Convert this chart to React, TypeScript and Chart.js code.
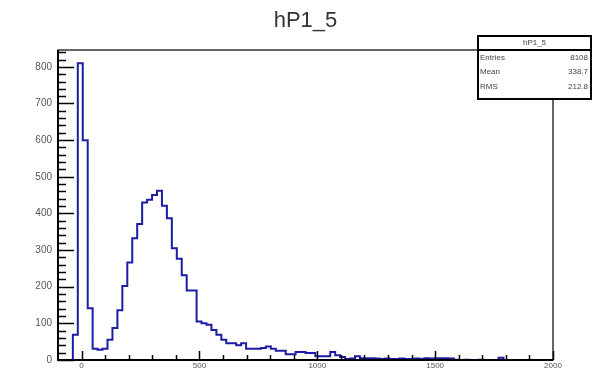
import React, { useEffect, useRef } from 'react';
import { Chart, registerables } from 'chart.js';

Chart.register(...registerables);

const histTitle = 'hP1_5';
const xMin = -100;
const xMax = 2000;
const binWidth = 21;
const yMax = 846;
const binContents = [
  0, 0, 0, 0, 69, 810, 600, 141, 31, 28,
  31, 55, 87, 136, 202, 266, 332, 371, 430, 437,
  450, 462, 421, 387, 305, 276, 231, 190, 190, 105,
  100, 96, 82, 69, 55, 46, 46, 40, 46, 31,
  31, 31, 33, 37, 31, 25, 25, 16, 16, 22,
  22, 19, 19, 10, 10, 10, 22, 13, 8, 3,
  4, 10, 5, 5, 5, 4, 3, 4, 3, 3,
  4, 3, 3, 4, 3, 5, 4, 5, 5, 5,
  4, 1, 0, 1, 0, 0, 1, 0, 0, 0,
  6, 0, 0, 0, 0, 0, 0, 0, 0, 0,
];
const xTickValues = [0, 500, 1000, 1500, 2000];
const yTickValues = [0, 100, 200, 300, 400, 500, 600, 700, 800];
const xMinorStep = 100;
const yMinorStep = 20;
const statsLabels = ['Entries', 'Mean', 'RMS'];
const statsValues = ['8108', '338.7', '212.8'];

const FONT = "'Liberation Sans', Arial, Helvetica, sans-serif";
const LINE_COLOR = '#1c1ca6';

const framePlugin = {
  id: 'rootFrame',
  afterDatasetsDraw(chart: any) {
    const { ctx, chartArea, scales } = chart;
    const { left, right, top, bottom } = chartArea;
    const xs = scales.x;
    const ys = scales.y;
    ctx.save();
    ctx.strokeStyle = '#000';
    ctx.lineWidth = 1.2;
    ctx.strokeRect(left, top, right - left, bottom - top);
    ctx.lineWidth = 2;
    ctx.beginPath();
    ctx.moveTo(left, top);
    ctx.lineTo(left, bottom);
    ctx.lineTo(right, bottom);
    ctx.stroke();
    ctx.lineWidth = 1.5;
    ctx.beginPath();
    for (let v = 0; v <= xMax; v += xMinorStep) {
      const px = Math.round(xs.getPixelForValue(v)) + 0.5;
      const len = v % 500 === 0 ? 9 : 5;
      ctx.moveTo(px, bottom);
      ctx.lineTo(px, bottom - len);
    }
    ctx.stroke();
    ctx.beginPath();
    for (let v = 0; v <= yMax; v += yMinorStep) {
      const py = Math.round(ys.getPixelForValue(v)) + 0.5;
      const len = v % 100 === 0 ? 16 : 8;
      ctx.moveTo(left, py);
      ctx.lineTo(left + len, py);
    }
    ctx.stroke();
    ctx.restore();
  },
  afterDraw(chart: any) {
    const { ctx } = chart;
    const bx = 478;
    const by = 36;
    const bw = 113;
    const bh = 63;
    ctx.save();
    ctx.fillStyle = '#fff';
    ctx.fillRect(bx, by, bw, bh);
    ctx.strokeStyle = '#000';
    ctx.lineWidth = 2;
    ctx.strokeRect(bx, by, bw, bh);
    ctx.beginPath();
    ctx.moveTo(bx, 50);
    ctx.lineTo(bx + bw, 50);
    ctx.stroke();
    ctx.fillStyle = '#444';
    ctx.font = `8px ${FONT}`;
    ctx.textBaseline = 'middle';
    ctx.textAlign = 'center';
    ctx.fillText(histTitle, bx + bw / 2, 43);
    const rowY = [58, 72, 86.5];
    statsLabels.forEach((lab, i) => {
      ctx.textAlign = 'left';
      ctx.fillText(lab, bx + 2, rowY[i]);
      ctx.textAlign = 'right';
      ctx.fillText(statsValues[i], bx + bw - 3, rowY[i]);
    });
    ctx.restore();
  },
};

export default function App() {
  const canvasRef = useRef<HTMLCanvasElement | null>(null);

  useEffect(() => {
    if (!canvasRef.current) return;
    const points = binContents.map((c, k) => ({ x: xMin + k * binWidth, y: c }));
    points.push({ x: xMax, y: binContents[binContents.length - 1] });

    const chart = new Chart(canvasRef.current, {
      type: 'line',
      data: {
        datasets: [
          {
            data: points,
            stepped: 'after',
            borderColor: LINE_COLOR,
            borderWidth: 2,
            pointRadius: 0,
            fill: false,
          },
        ],
      },
      options: {
        animation: false,
        responsive: false,
        devicePixelRatio: 1,
        layout: { padding: { left: 0, right: 41, top: 0, bottom: 0 } },
        plugins: {
          legend: { display: false },
          tooltip: { enabled: false },
          title: {
            display: true,
            fullSize: false,
            text: histTitle,
            color: '#333',
            font: { family: FONT, size: 22, weight: 'normal' },
            padding: { top: 8, bottom: 15.6 },
          },
        },
        scales: {
          x: {
            type: 'linear',
            min: xMin,
            max: xMax,
            grid: { display: false, drawTicks: false },
            border: { display: false },
            ticks: {
              color: '#555',
              font: { family: FONT, size: 8 },
              padding: 1,
              maxRotation: 0,
              autoSkip: false,
              callback: (v: any) => String(v),
            },
            afterBuildTicks: (scale: any) => {
              scale.ticks = xTickValues.map((v) => ({ value: v }));
            },
            afterFit: (scale: any) => {
              scale.height = 10;
            },
          },
          y: {
            type: 'linear',
            min: 0,
            max: yMax,
            grid: { display: false, drawTicks: false },
            border: { display: false },
            ticks: {
              color: '#555',
              font: { family: FONT, size: 10 },
              padding: 6,
              autoSkip: false,
              callback: (v: any) => String(v),
            },
            afterBuildTicks: (scale: any) => {
              scale.ticks = yTickValues.map((v) => ({ value: v }));
            },
            afterFit: (scale: any) => {
              scale.width = 58;
            },
          },
        },
      },
      plugins: [framePlugin],
    });
    return () => chart.destroy();
  }, []);

  return (
    <div style={{ position: 'fixed', left: 0, top: 0, width: 594, height: 372, background: '#fff' }}>
      <canvas ref={canvasRef} width={594} height={372} style={{ width: 594, height: 372 }} />
    </div>
  );
}
